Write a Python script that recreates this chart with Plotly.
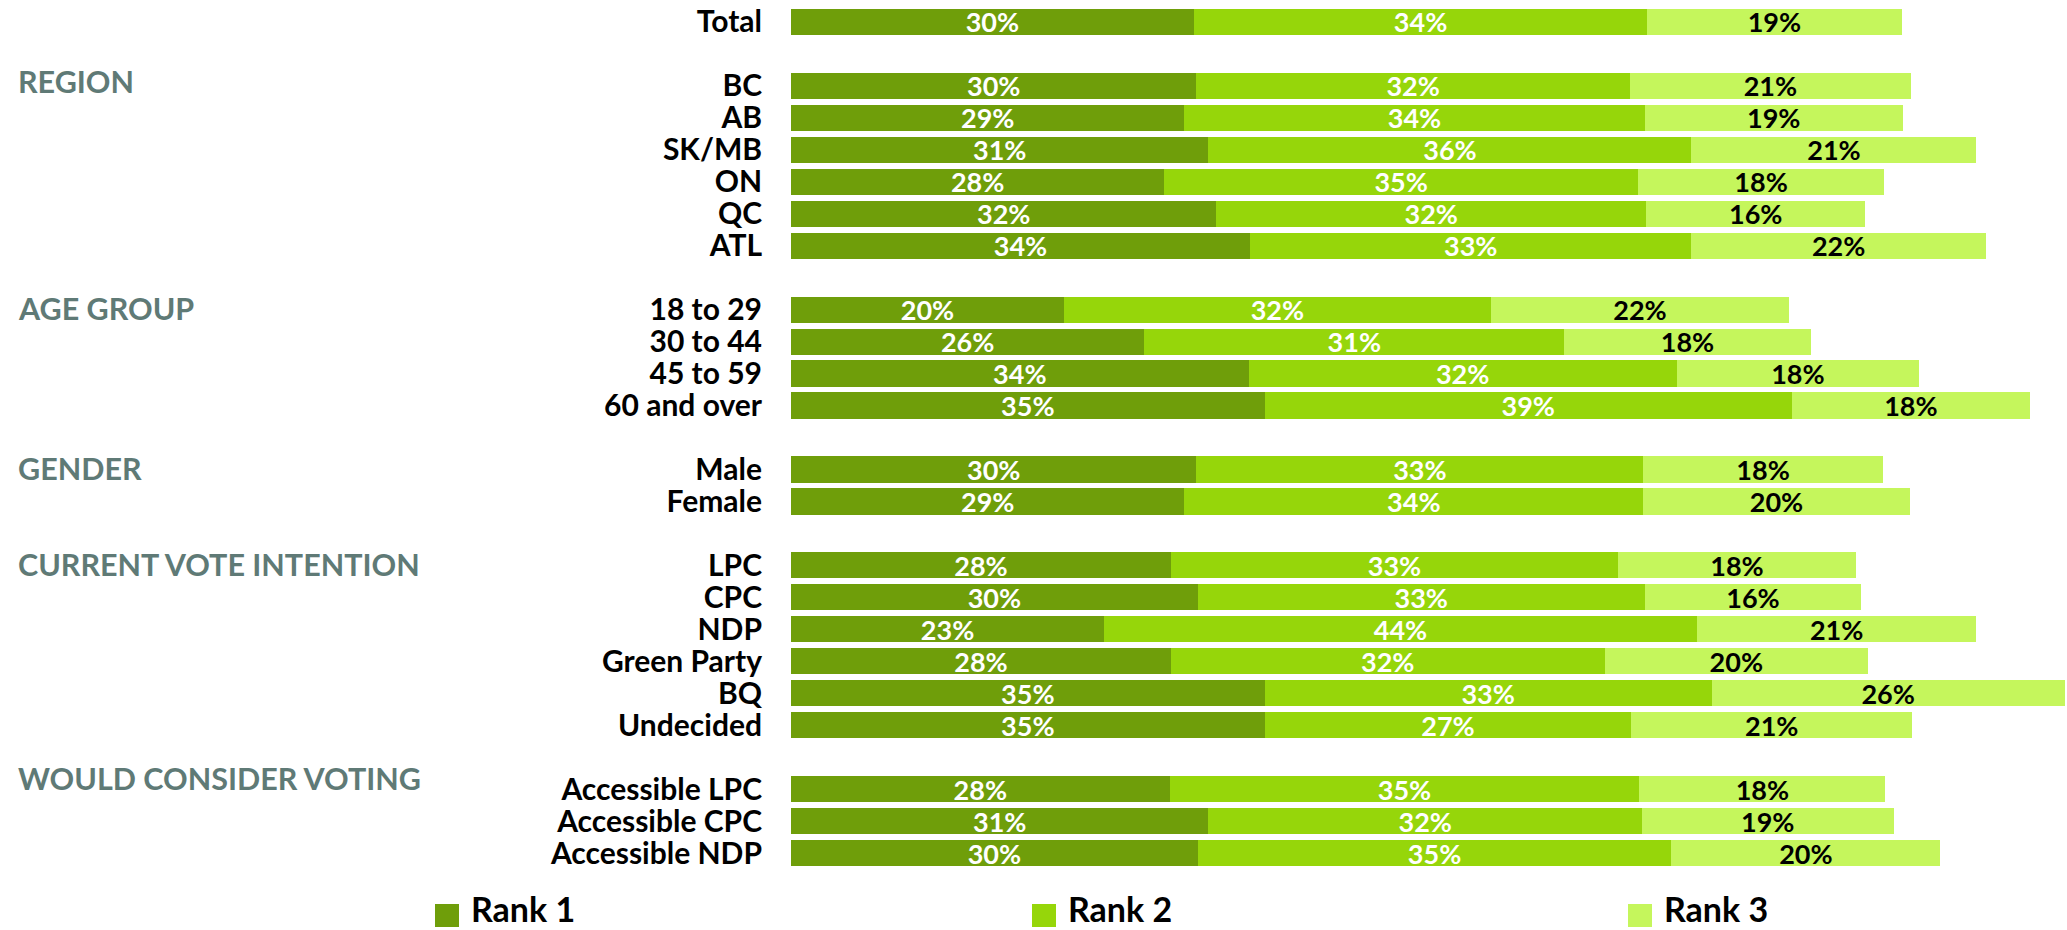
import plotly.graph_objects as go

# ---------------- data ----------------
categories = ["Total",
              "BC", "AB", "SK/MB", "ON", "QC", "ATL",
              "18 to 29", "30 to 44", "45 to 59", "60 and over",
              "Male", "Female",
              "LPC", "CPC", "NDP", "Green Party", "BQ", "Undecided",
              "Accessible LPC", "Accessible CPC", "Accessible NDP"]
# row slot of each category (empty slots separate the groups)
slots = [0, 2, 3, 4, 5, 6, 7, 9, 10, 11, 12, 14, 15, 17, 18, 19, 20, 21, 22, 24, 25, 26]

rank1 = [30.1, 30.3, 29.4, 31.2, 27.9, 31.8, 34.3, 20.4, 26.4, 34.2, 35.4,
         30.3, 29.4, 28.4, 30.4, 23.4, 28.4, 35.4, 35.4, 28.3, 31.2, 30.4]
rank2 = [33.9, 32.4, 34.4, 36.1, 35.4, 32.1, 33.0, 31.9, 31.4, 32.0, 39.4,
         33.4, 34.3, 33.4, 33.4, 44.3, 32.4, 33.4, 27.4, 35.1, 32.4, 35.4]
rank3 = [19.0, 21.0, 19.3, 21.3, 18.4, 16.4, 22.0, 22.3, 18.4, 18.1, 17.8,
         17.9, 19.9, 17.8, 16.2, 20.9, 19.7, 26.4, 21.0, 18.4, 18.8, 20.1]

series_names = ["Rank 1", "Rank 2", "Rank 3"]
series_values = [rank1, rank2, rank3]
series_colors = ["#6F9E0A", "#96D60A", "#C5F65C"]
text_colors = ["white", "white", "black"]

group_labels = ["REGION", "AGE GROUP", "GENDER", "CURRENT VOTE INTENTION", "WOULD CONSIDER VOTING"]
group_slots = [1.85, 8.95, 13.95, 16.95, 23.65]

# ---------------- layout constants (pixels) ----------------
FIG_W, FIG_H = 2067, 930
L, R, T, B = 791, 2067, 6, 869
PW, PH = R - L, B - T
FONT = "Lato"

def px_to_paper_x(px):
    return (px - L) / PW

def py_to_paper_y(py):
    return (B - py) / PH

fig = go.Figure()
for name, vals, col, tcol in zip(series_names, series_values, series_colors, text_colors):
    fig.add_trace(go.Bar(
        y=slots, x=vals, orientation="h", name=name,
        marker=dict(color=col, line=dict(width=0)),
        width=0.82,
        text=vals, texttemplate="%{x:.0f}%",
        textposition="inside", insidetextanchor="middle", textangle=0,
        textfont=dict(family=FONT, size=27, color=tcol, weight="bold"),
        showlegend=False, hoverinfo="skip",
    ))

annotations = []
for lab, s in zip(group_labels, group_slots):
    annotations.append(dict(
        text=lab, xref="paper", yref="y", x=px_to_paper_x(16), y=s,
        xanchor="left", yanchor="middle", showarrow=False,
        font=dict(family=FONT, size=30.5, color="#5F7A76", weight="bold"),
    ))

# custom legend (large squares)
shapes = []
legend_square_x = [435, 1032, 1628]
for name, col, sx in zip(series_names, series_colors, legend_square_x):
    shapes.append(dict(
        type="rect", xref="paper", yref="paper",
        x0=px_to_paper_x(sx), x1=px_to_paper_x(sx + 24),
        y0=py_to_paper_y(927), y1=py_to_paper_y(904),
        fillcolor=col, line=dict(width=0),
    ))
    annotations.append(dict(
        text=name, xref="paper", yref="paper",
        x=px_to_paper_x(sx + 34), y=py_to_paper_y(908),
        xanchor="left", yanchor="middle", showarrow=False,
        font=dict(family=FONT, size=34, color="black", weight="bold"),
    ))

fig.update_layout(
    width=FIG_W, height=FIG_H,
    margin=dict(l=L, r=FIG_W - R, t=T, b=FIG_H - B, pad=0),
    barmode="stack",
    bargap=0.18,
    plot_bgcolor="white", paper_bgcolor="white",
    uniformtext=dict(minsize=27, mode="show"),
    annotations=annotations, shapes=shapes,
    xaxis=dict(range=[0, PW / 13.38], visible=False, fixedrange=True),
    yaxis=dict(
        range=[26.5, -0.5], tickmode="array", tickvals=slots, ticktext=categories,
        showgrid=False, zeroline=False, showline=False, ticks="",
        ticklabelstandoff=28,
        tickfont=dict(family=FONT, size=30, color="black", weight="bold"),
        fixedrange=True,
    ),
    showlegend=False,
)

fig.write_html(
    "out.html",
    config={"displayModeBar": False},
    post_script="document.body.style.margin='0';document.body.style.overflow='hidden';",
)
